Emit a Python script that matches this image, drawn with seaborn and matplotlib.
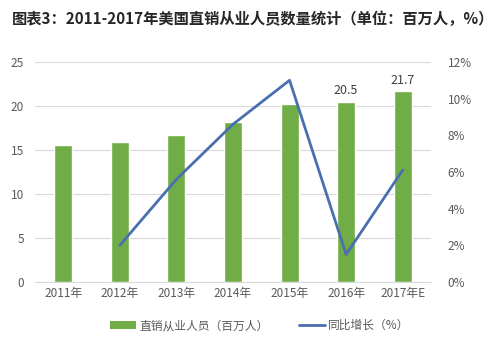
import pandas as pd
import matplotlib
matplotlib.use('Agg')
import matplotlib.pyplot as plt
import seaborn as sns
from matplotlib.patches import Patch
from matplotlib.lines import Line2D

# Data
years = ['2011年', '2012年', '2013年', '2014年', '2015年', '2016年', '2017年E']
people = [15.6, 15.9, 16.7, 18.2, 20.2, 20.5, 21.7]
growth_years = ['2012年', '2013年', '2014年', '2015年', '2016年', '2017年E']
growth = [2.0, 5.6, 8.6, 11.0, 1.5, 6.1]
labelled = {'2016年': 20.5, '2017年E': 21.7}

sns.set_style('white')
plt.rcParams['font.family'] = ['Noto Sans CJK SC', 'DejaVu Sans']

bar_color = '#70AD47'
line_color = '#4A6FAF'
tick_color = '#595959'

df = pd.DataFrame({'year': years, 'people': people})
gdf = pd.DataFrame({'year': growth_years, 'growth': growth})
gdf['pos'] = [years.index(y) for y in growth_years]

fig = plt.figure(figsize=(5, 3.52), dpi=100)
ax = fig.add_axes([0.07, 0.199, 0.792, 0.625])

sns.barplot(data=df, x='year', y='people', color=bar_color, width=0.32,
            saturation=1, ax=ax, zorder=2)
ax.set_ylim(0, 25)
ax.set_yticks(range(0, 26, 5))
ax.set_xlim(-0.5, len(years) - 0.5)
ax.yaxis.grid(True, color='#D9D9D9', linewidth=0.8, zorder=0)
ax.set_axisbelow(True)
ax.set_xlabel('')
ax.set_ylabel('')
for s in ['top', 'right', 'left']:
    ax.spines[s].set_visible(False)
ax.spines['bottom'].set_color('#D9D9D9')
ax.tick_params(axis='both', colors=tick_color, labelsize=8.5, length=0)
ax.tick_params(axis='y', pad=8)

for i, y in enumerate(years):
    if y in labelled:
        ax.text(i, labelled[y] + 0.5, f'{labelled[y]:.1f}', ha='center',
                va='bottom', fontsize=9, color='#404040')

ax2 = ax.twinx()
sns.lineplot(data=gdf, x='pos', y='growth', color=line_color, linewidth=2,
             ax=ax2, zorder=3)
ax2.set_ylim(0, 12)
ax2.set_yticks(range(0, 13, 2))
ax2.set_yticklabels([f'{v}%' for v in range(0, 13, 2)])
ax2.set_xlim(-0.5, len(years) - 0.5)
ax2.set_ylabel('')
ax2.set_xlabel('')
for s in ['top', 'right', 'left', 'bottom']:
    ax2.spines[s].set_visible(False)
ax2.tick_params(axis='y', colors=tick_color, labelsize=8.5, length=0, pad=12)

handles = [Patch(facecolor=bar_color, edgecolor='none'),
           Line2D([0], [0], color=line_color, linewidth=2)]
fig.legend(handles, ['直销从业人员（百万人）', '同比增长（%）'], loc='center',
           bbox_to_anchor=(0.52, 0.075), ncol=2, frameon=False, fontsize=8.5,
           labelcolor=tick_color, handlelength=2.2, columnspacing=2.5,
           handletextpad=0.3)

fig.text(0.024, 0.945, '图表3：2011-2017年美国直销从业人员数量统计（单位：百万人，%）',
         fontsize=11, fontweight='bold', color='#262626', va='center')

fig.savefig('out.png', dpi=100)
